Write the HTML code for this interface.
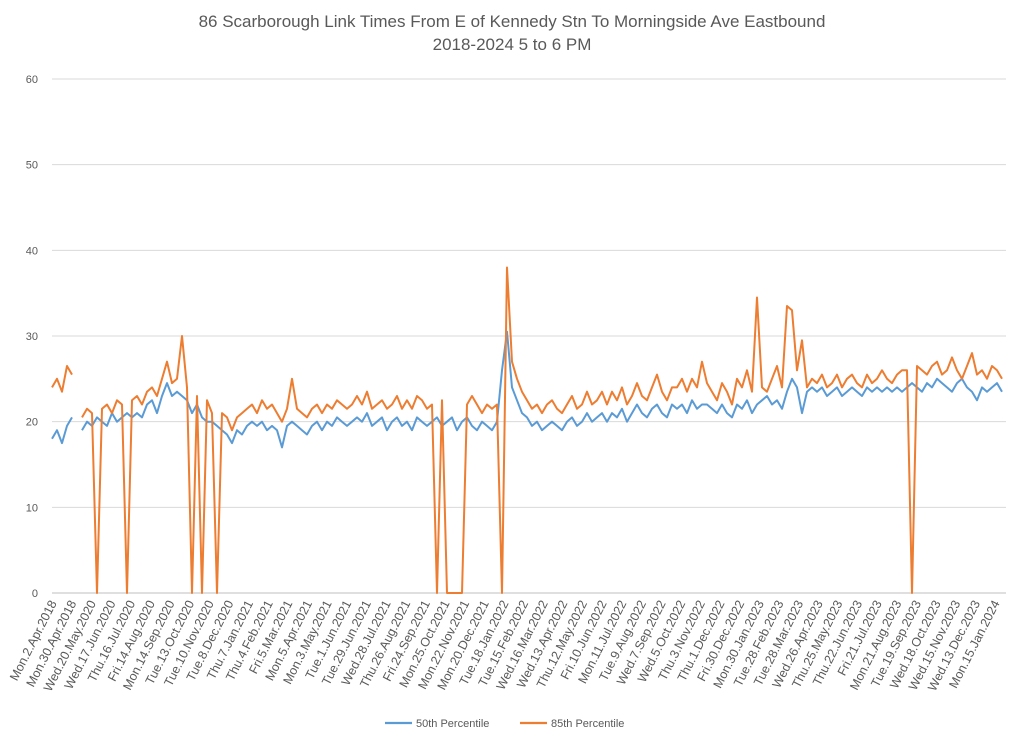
<!DOCTYPE html>
<html><head><meta charset="utf-8"><style>
body{margin:0;background:#fff;font-family:"Liberation Sans",sans-serif}
svg text{font-family:"Liberation Sans",sans-serif}
</style></head><body>
<svg id="chart" width="1024" height="744" viewBox="0 0 1024 744">
<text x="512" y="27" text-anchor="middle" font-size="17" fill="#595959">86 Scarborough Link Times From E of Kennedy Stn To Morningside Ave Eastbound</text>
<text x="512" y="50" text-anchor="middle" font-size="17" fill="#595959">2018-2024 5 to 6 PM</text>
<g id="grid"></g>
<g id="yaxis"></g>
<g id="xaxis"></g>
<g id="series"></g>
<g>
<line x1="385" y1="723" x2="412" y2="723" stroke="#5B9BD5" stroke-width="2.2"/>
<text x="416" y="727" font-size="11" fill="#595959">50th Percentile</text>
<line x1="520" y1="723" x2="547" y2="723" stroke="#ED7D31" stroke-width="2.2"/>
<text x="551" y="727" font-size="11" fill="#595959">85th Percentile</text>
</g>
</svg>
<script>
const yTicks=[0,10,20,30,40,50,60];
const xLabels=["Mon.2.Apr.2018","Mon.30.Apr.2018","Wed.20.May.2020","Wed.17.Jun.2020","Thu.16.Jul.2020","Fri.14.Aug.2020","Mon.14.Sep.2020","Tue.13.Oct.2020","Tue.10.Nov.2020","Tue.8.Dec.2020","Thu.7.Jan.2021","Thu.4.Feb.2021","Fri.5.Mar.2021","Mon.5.Apr.2021","Mon.3.May.2021","Tue.1.Jun.2021","Tue.29.Jun.2021","Wed.28.Jul.2021","Thu.26.Aug.2021","Fri.24.Sep.2021","Mon.25.Oct.2021","Mon.22.Nov.2021","Mon.20.Dec.2021","Tue.18.Jan.2022","Tue.15.Feb.2022","Wed.16.Mar.2022","Wed.13.Apr.2022","Thu.12.May.2022","Fri.10.Jun.2022","Mon.11.Jul.2022","Tue.9.Aug.2022","Wed.7.Sep.2022","Wed.5.Oct.2022","Thu.3.Nov.2022","Thu.1.Dec.2022","Fri.30.Dec.2022","Mon.30.Jan.2023","Tue.28.Feb.2023","Tue.28.Mar.2023","Wed.26.Apr.2023","Thu.25.May.2023","Thu.22.Jun.2023","Fri.21.Jul.2023","Mon.21.Aug.2023","Tue.19.Sep.2023","Wed.18.Oct.2023","Wed.15.Nov.2023","Wed.13.Dec.2023","Mon.15.Jan.2024"];
const p50=[18,19,17.5,19.5,20.5,null,
19,20,19.5,20.5,20,19.5,21,20,20.5,21,
20.5,21,20.5,22,22.5,21,23,24.5,23,23.5,
23,22.5,21,22,20.5,20,20,19.5,19,18.5,
17.5,19,18.5,19.5,20,19.5,20,19,19.5,19,17,19.5,20,19.5,
19,18.5,19.5,20,19,20,19.5,20.5,20,19.5,20,20.5,20,21,19.5,20,20.5,19,20,20.5,19.5,20,19,20.5,20,19.5,
20,20.5,19.5,20,20.5,19,20,20.5,19.5,19,20,19.5,19,20,
26,30.5,24,22.5,21,20.5,
19.5,20,19,19.5,20,19.5,19,20,20.5,19.5,20,21,20,20.5,21,
20,21,20.5,21.5,20,21,22,21,20.5,21.5,22,21,20.5,22,21.5,22,21,22.5,21.5,22,
22,21.5,21,22,21,20.5,22,21.5,22.5,21,22,22.5,23,22,22.5,21.5,23.5,25,24,21,
23.5,24,23.5,24,23,23.5,24,23,23.5,24,23.5,23,24,23.5,24,23.5,24,23.5,24,23.5,
24,24.5,24,23.5,24.5,24,25,24.5,24,23.5,24.5,25,24,23.5,22.5,24,23.5,24,24.5,23.5];
const p85=[24,25,23.5,26.5,25.5,null,
20.5,21.5,21,0,21.5,22,21,22.5,22,0,
22.5,23,22,23.5,24,23,25,27,24.5,25,
30,24,0,23,0,22.5,21,0,21,20.5,
19,20.5,21,21.5,22,21,22.5,21.5,22,21,20,21.5,25,21.5,
21,20.5,21.5,22,21,22,21.5,22.5,22,21.5,22,23,22,23.5,21.5,22,22.5,21.5,22,23,21.5,22.5,21.5,23,22.5,21.5,
22,0,22.5,0,0,0,0,22,23,22,21,22,21.5,22,
0,38,27,25,23.5,22.5,
21.5,22,21,22,22.5,21.5,21,22,23,21.5,22,23.5,22,22.5,23.5,
22,23.5,22.5,24,22,23,24.5,23,22.5,24,25.5,23.5,22.5,24,24,25,23.5,25,24,27,
24.5,23.5,22.5,24.5,23.5,22,25,24,26,23.5,34.5,24,23.5,25,26.5,24,33.5,33,26,29.5,
24,25,24.5,25.5,24,24.5,25.5,24,25,25.5,24.5,24,25.5,24.5,25,26,25,24.5,25.5,26,
26,0,26.5,26,25.5,26.5,27,25.5,26,27.5,26,25,26.5,28,25.5,26,25,26.5,26,25];
const NS="http://www.w3.org/2000/svg";
const X0=52,X1=1006,Y0=593,Ytop=79;
function ys(v){return Y0-(v/60)*(Y0-Ytop);}
function xs(i,n){return X0+i*((X1-X0-4)/(n-1));}
const grid=document.getElementById('grid'),yax=document.getElementById('yaxis'),xax=document.getElementById('xaxis'),ser=document.getElementById('series');
yTicks.forEach(t=>{
 const l=document.createElementNS(NS,'line');
 
 
 l.setAttribute('x1',X0);l.setAttribute('x2',X1);l.setAttribute('y1',ys(t));l.setAttribute('y2',ys(t));
 l.setAttribute('stroke',t===0?'#bfbfbf':'#d9d9d9');l.setAttribute('stroke-width','1');
 grid.appendChild(l);
 const tx=document.createElementNS(NS,'text');
 
 
 tx.setAttribute('x',38);tx.setAttribute('y',ys(t)+4);tx.setAttribute('text-anchor','end');
 tx.setAttribute('font-size','11');tx.setAttribute('fill','#595959');tx.textContent=t;
 yax.appendChild(tx);
});
xLabels.forEach((s,j)=>{
 const x=X0+j*((995-X0)/(xLabels.length-1))+5;
 const tx=document.createElementNS(NS,'text');
 
 
 tx.setAttribute('transform','translate('+x+',603) rotate(-63)');
 tx.setAttribute('text-anchor','end');tx.setAttribute('font-size','12.5');tx.setAttribute('fill','#595959');
 tx.textContent=s;xax.appendChild(tx);
});
function draw(arr,color,name){
 let d='',pen=false;
 arr.forEach((v,i)=>{
  if(v===null){pen=false;return;}
  d+=(pen?'L':'M')+xs(i,arr.length).toFixed(1)+','+ys(v).toFixed(1);pen=true;
 });
 const p=document.createElementNS(NS,'path');
 
 
 p.setAttribute('d',d);p.setAttribute('fill','none');p.setAttribute('stroke',color);
 p.setAttribute('stroke-width','2');p.setAttribute('stroke-linejoin','round');
 ser.appendChild(p);
}
draw(p50,'#5B9BD5','series-50th-percentile');
draw(p85,'#ED7D31','series-85th-percentile');
</script>
</body></html>
